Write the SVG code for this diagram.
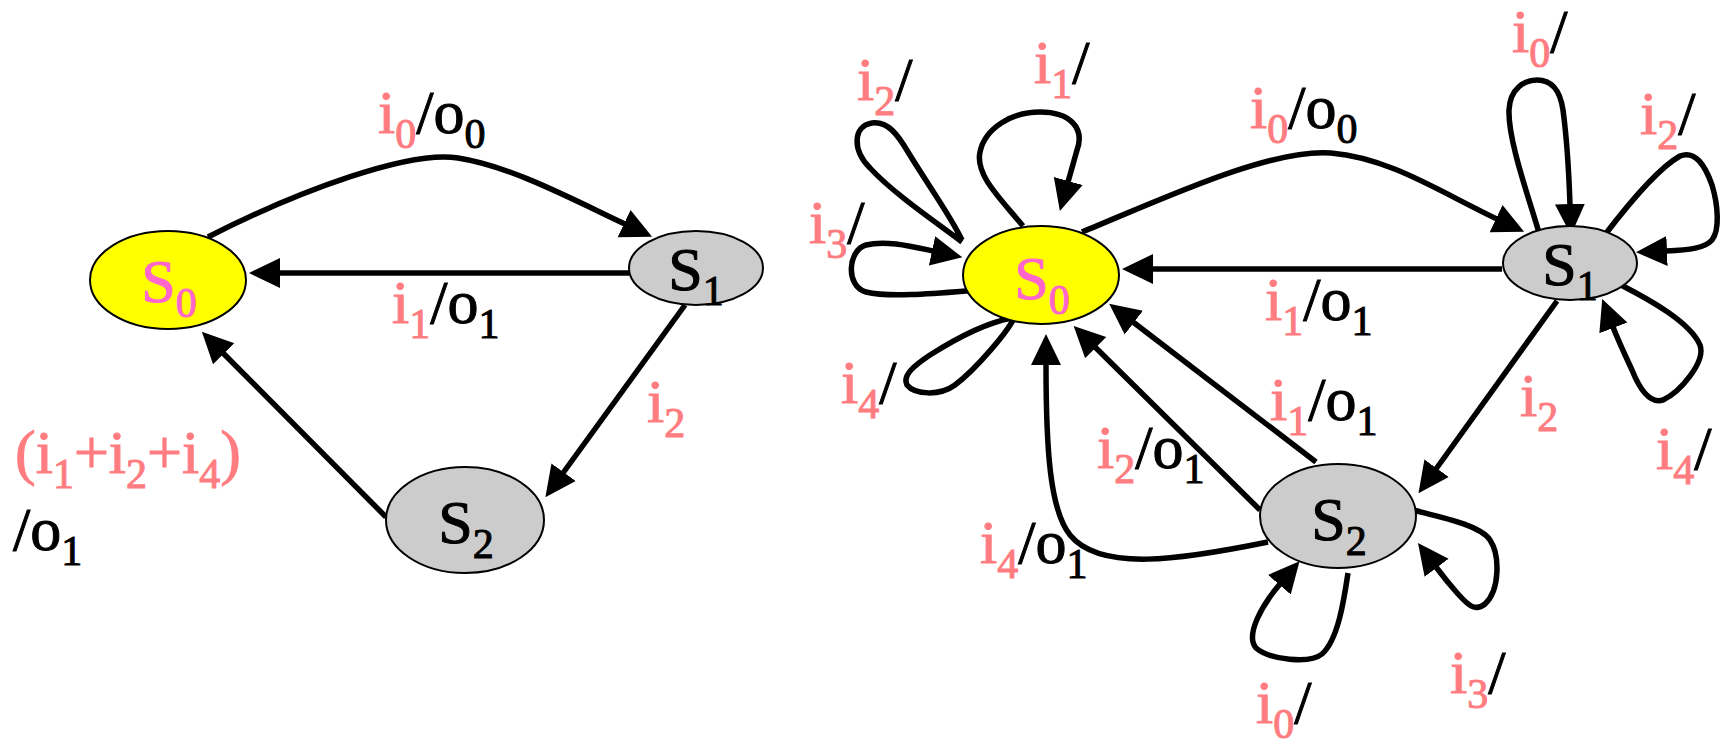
<svg xmlns="http://www.w3.org/2000/svg" width="1726" height="744" viewBox="0 0 1726 744">
<style>
.node{stroke:#000;stroke-width:2}
.y{fill:#FFFF00}
.g{fill:#CCCCCC}
.e{fill:none;stroke:#000;stroke-width:5.5}
.a{marker-end:url(#ah)}
.t{font-size:62px;fill:#000;stroke:#000;stroke-width:1}
.nt{text-anchor:middle}
.p{fill:#FF7C80;stroke:#FF7C80}
.m{fill:#FF66CC;stroke:#FF66CC}
.s{font-size:42px}
</style>
<defs>
<marker id="ah" markerUnits="userSpaceOnUse" markerWidth="32" markerHeight="32" viewBox="0 0 32 32" refX="1" refY="16" orient="auto">
<path d="M0,1 L31,16 L0,31 z" fill="#000"/>
</marker>
</defs>
<g id="connectors">
<path class="e a" d="M208,237 C300,190 410,150 458,158 C510,166 570,198 625,224"/>
<path class="e a" d="M629,273 L279,273"/>
<path class="e a" d="M685,305 L563,473"/>
<path class="e a" d="M386,517 L223,353"/>
<path class="e a" d="M1082,232 C1160,200 1270,148 1331,153 C1390,158 1440,192 1497,219"/>
<path class="e a" d="M1502,269 L1152,269"/>
<path class="e a" d="M1557,301 L1436,469"/>
<path class="e a" d="M1316,462 L1133,322"/>
<path class="e a" d="M1260,510 L1095,347"/>
<path class="e a" d="M1268,542 C1180,560 1100,572 1070,535 C1050,510 1046,450 1046,364"/>
<path class="e a" d="M1023,226 C1000,198 975,175 980,152 C985,128 1012,112 1040,112 C1070,112 1085,128 1077,150 L1068,182"/>
<path class="e" d="M962,242 C940,225 895,195 870,168 C852,150 853,126 872,123 C888,121 898,135 908,152 C930,188 950,215 962,240"/>
<path class="e a" d="M978,290 C940,293 890,298 866,292 C845,286 848,250 866,245 C885,240 910,246 933,251"/>
<path class="e" d="M1016,314 C1010,330 975,370 955,385 C940,396 915,395 907,385 C902,375 915,365 930,355 C960,336 990,322 1012,318"/>
<path class="e a" d="M1540,236 C1528,195 1508,140 1509,110 C1510,88 1525,80 1537,80 C1552,80 1560,90 1563,110 C1567,140 1569,175 1570,205"/>
<path class="e a" d="M1604,236 C1620,215 1655,170 1680,156 C1695,150 1705,165 1712,185 C1718,205 1720,230 1712,240 C1705,248 1690,250 1666,251"/>
<path class="e a" d="M1621,285 C1650,300 1690,322 1700,345 C1706,362 1680,392 1663,400 C1650,404 1640,390 1632,370 C1625,355 1618,340 1613,327"/>
<path class="e a" d="M1348,573 C1344,600 1338,640 1322,654 C1310,664 1270,660 1256,648 C1245,635 1262,605 1280,584"/>
<path class="e a" d="M1413,510 C1440,517 1480,525 1490,540 C1500,555 1500,590 1485,604 C1475,612 1468,605 1458,594 C1450,585 1442,575 1436,567"/>
</g>
<g font-family="Liberation Serif, Times New Roman, serif">
<g id="left-S0"><ellipse class="node y" cx="168" cy="280" rx="78" ry="49"/><text class="t nt" x="169" y="302"><tspan class="m">S</tspan><tspan class="m s" dy="15">0</tspan></text></g>
<g id="left-S1"><ellipse class="node g" cx="696" cy="268" rx="67" ry="37"/><text class="t nt" x="696" y="290">S<tspan class="s" dy="15">1</tspan></text></g>
<g id="left-S2"><ellipse class="node g" cx="465" cy="520" rx="79" ry="53"/><text class="t nt" x="466" y="543">S<tspan class="s" dy="15">2</tspan></text></g>
<g id="right-S0"><ellipse class="node y" cx="1041" cy="275" rx="78" ry="49"/><text class="t nt" x="1042" y="299"><tspan class="m">S</tspan><tspan class="m s" dy="15">0</tspan></text></g>
<g id="right-S1"><ellipse class="node g" cx="1570" cy="263" rx="67" ry="37"/><text class="t nt" x="1570" y="285">S<tspan class="s" dy="15">1</tspan></text></g>
<g id="right-S2"><ellipse class="node g" cx="1338" cy="516" rx="78" ry="52"/><text class="t nt" x="1339" y="540">S<tspan class="s" dy="15">2</tspan></text></g>
<g id="labels" class="t">
<text x="378" y="133"><tspan class="p">i</tspan><tspan class="p s" dy="15">0</tspan><tspan dy="-15">/o</tspan><tspan class="s" dy="15">0</tspan></text>
<text x="392" y="323"><tspan class="p">i</tspan><tspan class="p s" dy="15">1</tspan><tspan dy="-15">/o</tspan><tspan class="s" dy="15">1</tspan></text>
<text x="647" y="422"><tspan class="p">i</tspan><tspan class="p s" dy="15">2</tspan></text>
<text x="15" y="473"><tspan class="p">(i</tspan><tspan class="p s" dy="15">1</tspan><tspan class="p" dy="-15">+i</tspan><tspan class="p s" dy="15">2</tspan><tspan class="p" dy="-15">+i</tspan><tspan class="p s" dy="15">4</tspan><tspan class="p" dy="-15">)</tspan></text>
<text x="13" y="550">/o<tspan class="s" dy="15">1</tspan></text>
<text x="1250" y="128"><tspan class="p">i</tspan><tspan class="p s" dy="15">0</tspan><tspan dy="-15">/o</tspan><tspan class="s" dy="15">0</tspan></text>
<text x="1265" y="320"><tspan class="p">i</tspan><tspan class="p s" dy="15">1</tspan><tspan dy="-15">/o</tspan><tspan class="s" dy="15">1</tspan></text>
<text x="1270" y="420"><tspan class="p">i</tspan><tspan class="p s" dy="15">1</tspan><tspan dy="-15">/o</tspan><tspan class="s" dy="15">1</tspan></text>
<text x="1520" y="416"><tspan class="p">i</tspan><tspan class="p s" dy="15">2</tspan></text>
<text x="1097" y="468"><tspan class="p">i</tspan><tspan class="p s" dy="15">2</tspan><tspan dy="-15">/o</tspan><tspan class="s" dy="15">1</tspan></text>
<text x="980" y="563"><tspan class="p">i</tspan><tspan class="p s" dy="15">4</tspan><tspan dy="-15">/o</tspan><tspan class="s" dy="15">1</tspan></text>
<text x="1512" y="52"><tspan class="p">i</tspan><tspan class="p s" dy="15">0</tspan><tspan dy="-15">/</tspan></text>
<text x="1640" y="134"><tspan class="p">i</tspan><tspan class="p s" dy="15">2</tspan><tspan dy="-15">/</tspan></text>
<text x="1656" y="469"><tspan class="p">i</tspan><tspan class="p s" dy="15">4</tspan><tspan dy="-15">/</tspan></text>
<text x="1256" y="723"><tspan class="p">i</tspan><tspan class="p s" dy="15">0</tspan><tspan dy="-15">/</tspan></text>
<text x="1450" y="693"><tspan class="p">i</tspan><tspan class="p s" dy="15">3</tspan><tspan dy="-15">/</tspan></text>
<text x="857" y="100"><tspan class="p">i</tspan><tspan class="p s" dy="15">2</tspan><tspan dy="-15">/</tspan></text>
<text x="1034" y="83"><tspan class="p">i</tspan><tspan class="p s" dy="15">1</tspan><tspan dy="-15">/</tspan></text>
<text x="809" y="243"><tspan class="p">i</tspan><tspan class="p s" dy="15">3</tspan><tspan dy="-15">/</tspan></text>
<text x="841" y="403"><tspan class="p">i</tspan><tspan class="p s" dy="15">4</tspan><tspan dy="-15">/</tspan></text>
</g>
</g>
</svg>
